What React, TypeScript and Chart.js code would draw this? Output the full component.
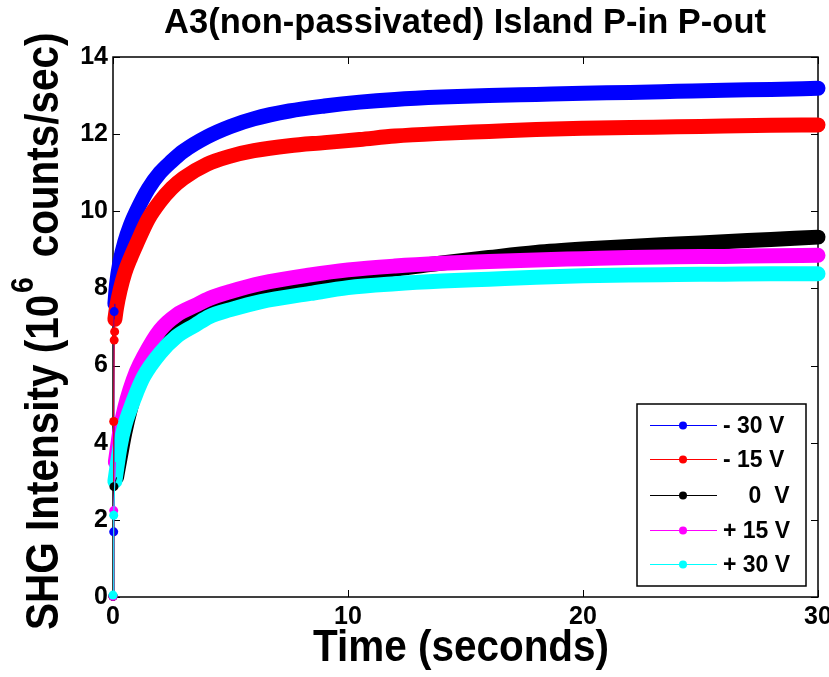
import React, { useEffect, useRef } from "react";
import { Chart, registerables } from "chart.js";

Chart.register(...registerables);

const FONT = "'Liberation Sans', Arial, Helvetica, sans-serif";

const titleText = "A3(non-passivated) Island P-in P-out";
const xAxisTitle = "Time (seconds)";
const yAxisTitleMain = "SHG Intensity (10";
const yAxisTitleSup = "6";
const yAxisTitleEnd = " counts/sec)";

const seriesLabels = ["- 30 V", "- 15 V", "    0  V", "+ 15 V", "+ 30 V"];
const seriesColors = ["#0000ff", "#ff0000", "#000000", "#ff00ff", "#00ffff"];

const xTickValues = [0, 10, 20, 30];
const yTickValues = [0, 2, 4, 6, 8, 10, 12, 14];

// first samples right after t = 0 (isolated dots)
const startTimeBlue = [0, 0.03, 0.05];
const startValBlue = [0.02, 1.69, 7.4];
const startTimeRed = [0, 0.03, 0.05, 0.07];
const startValRed = [0.02, 4.55, 6.66, 6.88];
const startTimeBlack = [0, 0.04];
const startValBlack = [0.02, 2.86];
const startTimeMagenta = [0, 0.03];
const startValMagenta = [0.02, 2.24];
const startTimeCyan = [0, 0.03];
const startValCyan = [0.05, 2.12];

// main traces
const timeBlue = [0.08, 0.15, 0.3, 0.5, 0.75, 1.0, 1.5, 2.0, 2.5, 3.0, 4.0, 5.0, 6.0, 7.5, 9.0, 10.5, 12.0, 14.0, 16.0, 18.0, 20.0, 22.0, 24.0, 26.0, 28.0, 30.0];
const valBlue = [7.6, 8.1, 8.7, 9.2, 9.65, 10.0, 10.58, 11.0, 11.3, 11.56, 11.93, 12.2, 12.4, 12.6, 12.73, 12.83, 12.9, 12.96, 13.0, 13.03, 13.06, 13.08, 13.11, 13.14, 13.16, 13.19];

const timeRed = [0.08, 0.15, 0.3, 0.5, 0.75, 1.0, 1.5, 2.0, 2.5, 3.0, 4.0, 5.0, 6.0, 7.5, 9.0, 10.5, 12.0, 14.0, 16.0, 18.0, 20.0, 22.0, 24.0, 26.0, 28.0, 30.0];
const valRed = [7.2, 7.5, 7.95, 8.4, 8.8, 9.15, 9.8, 10.25, 10.6, 10.86, 11.22, 11.43, 11.57, 11.7, 11.78, 11.86, 11.95, 12.02, 12.07, 12.12, 12.15, 12.17, 12.19, 12.21, 12.23, 12.24];

const timeBlack = [0.15, 0.3, 0.5, 0.75, 1.0, 1.3, 2.0, 2.7, 3.5, 4.1, 5.0, 6.3, 8.4, 10.0, 12.0, 14.0, 16.0, 18.0, 20.0, 22.0, 24.0, 26.0, 28.0, 30.0];
const valBlack = [3.1, 3.6, 4.25, 4.9, 5.4, 5.89, 6.58, 7.0, 7.3, 7.48, 7.67, 7.87, 8.13, 8.3, 8.5, 8.66, 8.8, 8.93, 9.02, 9.09, 9.15, 9.21, 9.27, 9.33];

const timeMagenta = [0.1, 0.3, 0.5, 0.72, 1.0, 1.3, 2.0, 2.7, 3.5, 4.1, 5.0, 6.3, 8.4, 10.0, 12.0, 14.0, 16.0, 18.0, 20.0, 22.0, 24.0, 26.0, 28.0, 30.0];
const valMagenta = [3.5, 4.33, 4.9, 5.37, 5.85, 6.23, 6.92, 7.31, 7.56, 7.74, 7.92, 8.13, 8.35, 8.48, 8.58, 8.65, 8.7, 8.74, 8.77, 8.8, 8.82, 8.83, 8.85, 8.86];

const timeCyan = [0.08, 0.3, 0.5, 0.72, 1.0, 1.3, 2.0, 2.7, 3.5, 4.1, 5.0, 6.3, 8.4, 10.0, 12.0, 14.0, 16.0, 18.0, 20.0, 22.0, 24.0, 26.0, 28.0, 30.0];
const valCyan = [3.0, 3.9, 4.45, 4.85, 5.3, 5.71, 6.32, 6.75, 7.05, 7.27, 7.45, 7.66, 7.87, 8.02, 8.12, 8.19, 8.24, 8.29, 8.33, 8.35, 8.36, 8.37, 8.38, 8.38];

const startTimes = [startTimeBlue, startTimeRed, startTimeBlack, startTimeMagenta, startTimeCyan];
const startVals = [startValBlue, startValRed, startValBlack, startValMagenta, startValCyan];
const mainTimes = [timeBlue, timeRed, timeBlack, timeMagenta, timeCyan];
const mainVals = [valBlue, valRed, valBlack, valMagenta, valCyan];

const toPoints = (xs: number[], ys: number[]) => xs.map((x, i) => ({ x, y: ys[i] }));

const decorPlugin = {
  id: "decor",
  beforeDatasetsDraw(chart: any) {
    const { ctx, chartArea: a, scales } = chart;
    ctx.save();
    ctx.strokeStyle = "#000";
    ctx.lineWidth = 1.5;
    ctx.strokeRect(a.left, a.top, a.right - a.left, a.bottom - a.top);
    ctx.lineWidth = 1;
    const tl = 7;
    ctx.beginPath();
    for (const v of xTickValues) {
      const px = Math.round(scales.x.getPixelForValue(v)) + 0.5;
      ctx.moveTo(px, a.bottom);
      ctx.lineTo(px, a.bottom - tl);
      ctx.moveTo(px, a.top);
      ctx.lineTo(px, a.top + tl);
    }
    for (const v of yTickValues) {
      const py = Math.round(scales.y.getPixelForValue(v)) + 0.5;
      ctx.moveTo(a.left, py);
      ctx.lineTo(a.left + tl, py);
      ctx.moveTo(a.right, py);
      ctx.lineTo(a.right - tl, py);
    }
    ctx.stroke();
    ctx.restore();
  },
  afterDraw(chart: any) {
    const { ctx } = chart;
    ctx.save();
    ctx.fillStyle = "#000";
    // title
    ctx.font = `bold 34.5px ${FONT}`;
    ctx.textAlign = "center";
    ctx.textBaseline = "alphabetic";
    ctx.fillText(titleText, 465, 33);
    // x axis title (slightly condensed)
    ctx.save();
    ctx.translate(461, 661);
    ctx.scale(0.92, 1);
    ctx.font = `bold 44px ${FONT}`;
    ctx.fillText(xAxisTitle, 0, 0);
    ctx.restore();
    // y axis title (rotated, slightly condensed)
    ctx.save();
    ctx.translate(58, 630);
    ctx.rotate(-Math.PI / 2);
    ctx.scale(0.88, 1);
    ctx.textAlign = "left";
    ctx.font = `bold 46px ${FONT}`;
    ctx.fillText(yAxisTitleMain, 0, 0);
    let off = ctx.measureText(yAxisTitleMain).width + 2;
    ctx.font = `bold 32px ${FONT}`;
    ctx.fillText(yAxisTitleSup, off, -25);
    off += ctx.measureText(yAxisTitleSup).width + 10;
    ctx.font = `bold 46px ${FONT}`;
    ctx.fillText(yAxisTitleEnd, off, 0);
    ctx.restore();
    // legend
    const bx = 637, by = 404, bw = 169, bh = 182;
    ctx.fillStyle = "#fff";
    ctx.fillRect(bx, by, bw, bh);
    ctx.strokeStyle = "#000";
    ctx.lineWidth = 1.5;
    ctx.strokeRect(bx, by, bw, bh);
    const rows = [425, 459, 495, 530, 564];
    ctx.font = `bold 23px ${FONT}`;
    ctx.textAlign = "left";
    ctx.textBaseline = "middle";
    seriesLabels.forEach((lab, i) => {
      const y = rows[i];
      ctx.strokeStyle = seriesColors[i];
      ctx.lineWidth = 1;
      ctx.beginPath();
      ctx.moveTo(650, y + 0.5);
      ctx.lineTo(717, y + 0.5);
      ctx.stroke();
      ctx.fillStyle = seriesColors[i];
      ctx.beginPath();
      ctx.arc(683, y + 0.5, 4, 0, Math.PI * 2);
      ctx.fill();
      ctx.fillStyle = "#000";
      ctx.fillText(lab, 723, y + 2);
    });
    ctx.restore();
  },
};

export default function App() {
  const ref = useRef<HTMLCanvasElement | null>(null);
  useEffect(() => {
    if (!ref.current) return;
    const datasets: any[] = [];
    seriesColors.forEach((c, i) => {
      const ord = 4 - i;
      datasets.push({
        label: seriesLabels[i],
        data: toPoints(mainTimes[i], mainVals[i]),
        borderColor: c,
        backgroundColor: c,
        borderWidth: 15,
        pointRadius: 0,
        cubicInterpolationMode: "monotone",
        borderCapStyle: "round",
        borderJoinStyle: "round",
        fill: false,
        clip: false,
        order: ord,
      });
      const sp = toPoints(startTimes[i], startVals[i]);
      const nStart = sp.length;
      sp.push({ x: mainTimes[i][0], y: mainVals[i][0] });
      datasets.push({
        label: seriesLabels[i] + " start",
        data: sp,
        borderColor: c,
        backgroundColor: c,
        borderWidth: 1,
        pointRadius: (ctx: any) => (ctx.dataIndex < nStart ? 4.5 : 0),
        pointBorderWidth: 0,
        pointBackgroundColor: c,
        tension: 0,
        fill: false,
        clip: false,
        order: ord - 10,
      });
    });
    const chart = new Chart(ref.current, {
      type: "line",
      data: { datasets },
      options: {
        responsive: false,
        animation: false,
        events: [],
        layout: { padding: { top: 57, right: 11, left: 0, bottom: 0 } },
        plugins: {
          legend: { display: false },
          title: { display: false },
          tooltip: { enabled: false },
        },
        scales: {
          x: {
            type: "linear",
            min: 0,
            max: 30,
            grid: { display: false, drawTicks: false },
            border: { display: false },
            ticks: {
              stepSize: 10,
              padding: 5,
              color: "#000",
              maxRotation: 0,
              font: { family: FONT, size: 25, weight: "bold" },
            },
            afterFit(s: any) {
              s.height = 80;
              s.paddingLeft = 0;
              s.paddingRight = 0;
            },
          },
          y: {
            type: "linear",
            min: 0,
            max: 14,
            grid: { display: false, drawTicks: false },
            border: { display: false },
            ticks: {
              stepSize: 2,
              padding: 5,
              color: "#000",
              font: { family: FONT, size: 25, weight: "bold" },
            },
            afterFit(s: any) {
              s.width = 113;
              s.paddingTop = 0;
              s.paddingBottom = 0;
            },
          },
        },
      },
      plugins: [decorPlugin],
    });
    return () => chart.destroy();
  }, []);
  return (
    <div style={{ position: "absolute", left: 0, top: 0, width: 829, height: 677, background: "#fff" }}>
      <canvas ref={ref} width={829} height={677} style={{ display: "block" }} />
    </div>
  );
}
